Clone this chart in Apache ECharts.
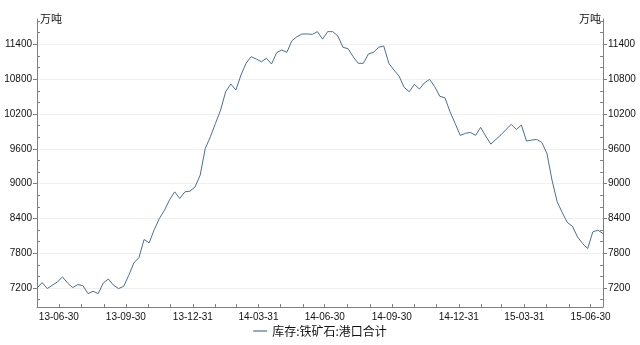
<!DOCTYPE html>
<html><head><meta charset="utf-8">
<script src="https://cdn.jsdelivr.net/npm/echarts@6/dist/echarts.min.js"></script>
<style>html,body{margin:0;padding:0;background:#fff}#c{width:640px;height:345px}</style>
</head><body><div id="c"></div>
<script>
const seriesName = '库存:铁矿石:港口合计';
const unitName = '万吨';
// weekly observations starting from this date (one value per week)
const startDate = '2013-05-31';
const weeklyValues = [
  7200,7293,7190,7247,7304,7390,7286,7207,7259,7241,
  7103,7143,7103,7286,7355,7247,7190,7229,7419,7632,
  7725,8036,7977,8208,8398,8541,8720,8857,8743,8857,
  8869,8943,9145,9606,9806,10037,10267,10583,10716,10612,
  10871,11073,11187,11147,11100,11159,11061,11256,11303,11263,
  11463,11533,11579,11579,11573,11619,11490,11619,11619,11545,
  11349,11326,11187,11073,11073,11234,11263,11349,11372,11073,
  10957,10854,10659,10583,10710,10630,10739,10796,10670,10504,
  10480,10238,10037,9830,9865,9882,9830,9968,9818,9680,
  9761,9841,9934,10020,9934,10008,9732,9749,9761,9709,
  9520,9060,8690,8500,8329,8265,8080,7966,7880,8167,
  8196,8139
];
const yRange = [6872, 11837];
const yLabelValues = [7200,7800,8400,9000,9600,10200,10800,11400];
const yMinorTickValues = [7000,7400,7600,8000,8200,8600,8800,9200,9400,9800,10000,10400,10600,11000,11200,11600,11800];
const xRange = ['2013-05-31','2015-07-17'];
const xLabelDates = ['2013-06-30','2013-09-30','2013-12-31','2014-03-31','2014-06-30','2014-09-30','2014-12-31','2015-03-31','2015-06-30'];
const xTickDates = ['2013-06-30','2013-07-31','2013-08-31','2013-09-30','2013-10-31','2013-11-30','2013-12-31',
  '2014-01-31','2014-02-28','2014-03-31','2014-04-30','2014-05-31','2014-06-30','2014-07-31','2014-08-31',
  '2014-09-30','2014-10-31','2014-11-30','2014-12-31','2015-01-31','2015-02-28','2015-03-31','2015-04-30',
  '2015-05-31','2015-06-30'];

function ts(s){ const p = s.split('-').map(Number); return Date.UTC(p[0], p[1]-1, p[2]); }
function fmt(v){ const d = new Date(v); const p = n => String(n).padStart(2,'0');
  return p(d.getUTCFullYear()%100) + '-' + p(d.getUTCMonth()+1) + '-' + p(d.getUTCDate()); }

const WEEK = 7*24*3600*1000;
const t0 = ts(startDate);
const seriesData = weeklyValues.map((v,i)=>[t0 + i*WEEK, v]);

const AX = '#808080', TXT = '#111';
const labelFont = 'Liberation Sans';
const cjkFont = 'Noto Sans CJK SC';

function yMajor(pos){
  return {
    type:'value', position:pos, min:yRange[0], max:yRange[1],
    name:unitName, nameLocation:'end', nameGap:0,
    nameTextStyle:{fontFamily:cjkFont, fontSize:11, color:TXT, align: pos==='left'?'left':'right',
      verticalAlign:'middle', padding: pos==='left'?[0,0,0,3]:[0,2,0,0]},
    axisLine:{show:true, lineStyle:{color:AX, width:1}},
    axisTick:{show:true, inside:false, length:4, customValues:yLabelValues, lineStyle:{color:AX}},
    axisLabel:{customValues:yLabelValues, formatter:v=>String(v), margin:5, fontSize:10, fontFamily:labelFont, color:TXT},
    splitLine:{show: pos==='left', lineStyle:{color:'#f0f0f0', width:1}}
  };
}
function yMinor(pos){
  return {
    type:'value', position:pos, min:yRange[0], max:yRange[1],
    axisLine:{show:false},
    axisTick:{show:true, inside:true, length:3, customValues:yMinorTickValues, lineStyle:{color:AX}},
    axisLabel:{show:false}, splitLine:{show:false}
  };
}

const chart = echarts.init(document.getElementById('c'), null, {renderer:'canvas'});
chart.setOption({
  animation:false,
  backgroundColor:'#fff',
  grid:{left:37, right:37, top:19, bottom:38, containLabel:false, outerBoundsMode:'none'},
  legend:{
    data:[seriesName], bottom:3, left:'center', icon:'rect', itemWidth:14, itemHeight:1.2, itemGap:10, itemTextGap:2,
    textStyle:{fontFamily:cjkFont, fontSize:12, color:TXT}
  },
  xAxis:{
    type:'value', min:ts(xRange[0]), max:ts(xRange[1]),
    axisLine:{show:true, lineStyle:{color:AX}},
    axisTick:{show:true, inside:true, length:3, customValues:xTickDates.map(ts), lineStyle:{color:AX}},
    axisLabel:{customValues:xLabelDates.map(ts), formatter:fmt, margin:5, fontSize:10, fontFamily:labelFont, color:TXT},
    splitLine:{show:false}
  },
  yAxis:[yMajor('left'), yMinor('left'), yMajor('right'), yMinor('right')],
  series:[{
    name:seriesName, type:'line', yAxisIndex:0, showSymbol:false, symbol:'none',
    data:seriesData, lineStyle:{color:'#4b6f99', width:1}, itemStyle:{color:'#4b6f99'}
  }]
});
</script></body></html>
